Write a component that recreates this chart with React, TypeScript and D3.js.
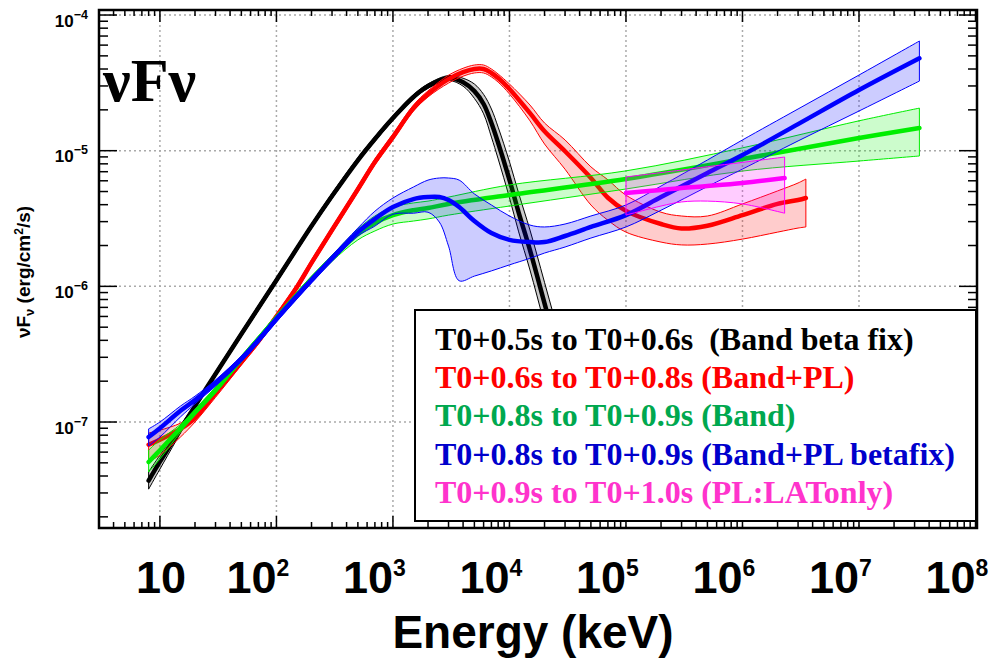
import React from "react";
import * as d3 from "d3";

// energies in keV, nuFnu in erg/cm2/s
const blackE = [8, 10, 20, 30, 50, 100, 200, 300, 500, 700, 1000, 1500, 2000, 3000, 4000, 5000, 6000, 7000, 8000, 10000, 12000, 15000, 20000, 30000, 50000];
const blackMid = [3.7e-8, 5.1e-8, 1.31e-7, 2.26e-7, 4.45e-7, 1.11e-6, 2.78e-6, 4.63e-6, 8.5e-6, 1.22e-5, 1.74e-5, 2.49e-5, 2.99e-5, 3.43e-5, 3.2e-5, 2.75e-5, 2.21e-5, 1.6e-5, 1.14e-5, 6.1e-6, 3.5e-6, 1.85e-6, 7.5e-7, 2.07e-7, 3.7e-8];
const blackHi = [4.3e-8, 5.7e-8, 1.36e-7, 2.36e-7, 4.65e-7, 1.16e-6, 2.9e-6, 4.85e-6, 8.9e-6, 1.27e-5, 1.81e-5, 2.59e-5, 3.11e-5, 3.58e-5, 3.42e-5, 3.1e-5, 2.6e-5, 2.03e-5, 1.49e-5, 8.3e-6, 4.85e-6, 2.6e-6, 1.07e-6, 3.0e-7, 5.5e-8];
const blackLo = [3.2e-8, 4.5e-8, 1.26e-7, 2.17e-7, 4.26e-7, 1.06e-6, 2.67e-6, 4.43e-6, 8.2e-6, 1.17e-5, 1.67e-5, 2.4e-5, 2.88e-5, 3.29e-5, 2.99e-5, 2.43e-5, 1.87e-5, 1.26e-5, 8.7e-6, 4.5e-6, 2.52e-6, 1.32e-6, 5.25e-7, 1.43e-7, 2.5e-8];

const redE = [8, 10, 15, 20, 30, 50, 70, 100, 150, 200, 300, 500, 700, 1000, 1500, 2000, 3000, 4000, 5000, 6000, 7000, 8000, 10000, 15000, 20000, 30000, 50000, 70000, 1e5, 2e5, 3e5, 5e5, 1e6, 2e6, 3e6, 3.5e6];
const redMid = [6.8e-8, 7.4e-8, 8.9e-8, 1.07e-7, 1.63e-7, 2.77e-7, 3.95e-7, 6.0e-7, 9.9e-7, 1.49e-6, 2.6e-6, 5.2e-6, 8.25e-6, 1.26e-5, 2.06e-5, 2.62e-5, 3.37e-5, 3.79e-5, 4.0e-5, 4.0e-5, 3.74e-5, 3.43e-5, 2.85e-5, 1.89e-5, 1.39e-5, 9.9e-6, 6.3e-6, 4.5e-6, 3.6e-6, 2.88e-6, 2.67e-6, 2.8e-6, 3.35e-6, 4.05e-6, 4.33e-6, 4.48e-6];
const redHi = [8.3e-8, 8.7e-8, 9.8e-8, 1.14e-7, 1.74e-7, 2.91e-7, 4.16e-7, 6.3e-7, 1.04e-6, 1.57e-6, 2.73e-6, 5.47e-6, 8.7e-6, 1.33e-5, 2.17e-5, 2.76e-5, 3.6e-5, 4.05e-5, 4.28e-5, 4.28e-5, 4.0e-5, 3.67e-5, 3.1e-5, 2.17e-5, 1.6e-5, 1.2e-5, 7.6e-6, 6.1e-6, 4.7e-6, 3.52e-6, 3.3e-6, 3.3e-6, 4.05e-6, 5.05e-6, 5.78e-6, 6.18e-6];
const redLo = [5.1e-8, 5.7e-8, 7.75e-8, 1.0e-7, 1.52e-7, 2.63e-7, 3.75e-7, 5.7e-7, 9.4e-7, 1.42e-6, 2.47e-6, 4.94e-6, 7.85e-6, 1.2e-5, 1.96e-5, 2.49e-5, 3.15e-5, 3.54e-5, 3.74e-5, 3.74e-5, 3.5e-5, 3.2e-5, 2.62e-5, 1.66e-5, 1.12e-5, 7.3e-6, 3.98e-6, 3.07e-6, 2.51e-6, 2.12e-6, 2.02e-6, 2.05e-6, 2.23e-6, 2.51e-6, 2.69e-6, 2.74e-6];

const greenE = [8, 10, 15, 20, 30, 50, 70, 100, 150, 200, 300, 500, 700, 1000, 1500, 2000, 3000, 10000, 1e5, 1e6, 1e7, 3.3e7];
const greenMid = [5.07e-8, 6.2e-8, 9.0e-8, 1.18e-7, 1.72e-7, 2.92e-7, 4.09e-7, 5.84e-7, 8.63e-7, 1.13e-6, 1.61e-6, 2.43e-6, 2.93e-6, 3.35e-6, 3.64e-6, 3.78e-6, 4.05e-6, 4.71e-6, 6.18e-6, 8.68e-6, 1.24e-5, 1.47e-5];
const greenHi = [6.2e-8, 7.4e-8, 9.6e-8, 1.24e-7, 1.81e-7, 3.07e-7, 4.3e-7, 6.15e-7, 9.08e-7, 1.19e-6, 1.7e-6, 2.64e-6, 3.3e-6, 3.84e-6, 4.12e-6, 4.25e-6, 4.55e-6, 5.59e-6, 7.1e-6, 1.05e-5, 1.66e-5, 2.06e-5];
const greenLo = [4.28e-8, 5.34e-8, 8.4e-8, 1.12e-7, 1.63e-7, 2.78e-7, 3.89e-7, 5.55e-7, 8.2e-7, 1.07e-6, 1.53e-6, 2.2e-6, 2.56e-6, 2.88e-6, 3.03e-6, 3.14e-6, 3.35e-6, 3.91e-6, 5.22e-6, 7.08e-6, 8.39e-6, 9.14e-6];

const blueE = [8, 10, 15, 20, 30, 50, 70, 100, 150, 200, 300, 500, 700, 1000, 1500, 2000, 2500, 3000, 3700, 5000, 7000, 10000, 15000, 20000, 30000, 50000, 1e5, 2e5, 5e5, 1e6, 3e6, 1e7, 3.3e7];
const blueMid = [7.75e-8, 9.0e-8, 1.21e-7, 1.45e-7, 1.94e-7, 2.92e-7, 4.01e-7, 5.74e-7, 8.49e-7, 1.11e-6, 1.61e-6, 2.51e-6, 3.14e-6, 3.84e-6, 4.4e-6, 4.55e-6, 4.55e-6, 4.33e-6, 3.84e-6, 3.03e-6, 2.47e-6, 2.2e-6, 2.12e-6, 2.12e-6, 2.35e-6, 2.74e-6, 3.35e-6, 4.55e-6, 6.85e-6, 9.29e-6, 1.57e-5, 2.8e-5, 4.8e-5];
const blueHi = [8.9e-8, 1.0e-7, 1.31e-7, 1.55e-7, 2.04e-7, 3.07e-7, 4.22e-7, 6.04e-7, 8.93e-7, 1.17e-6, 1.69e-6, 2.69e-6, 3.58e-6, 4.48e-6, 5.4e-6, 6.07e-6, 6.29e-6, 6.29e-6, 6.07e-6, 4.8e-6, 3.98e-6, 3.3e-6, 2.83e-6, 2.74e-6, 2.88e-6, 3.3e-6, 3.98e-6, 5.49e-6, 8.54e-6, 1.2e-5, 2.03e-5, 3.61e-5, 6.43e-5];
const blueLo = [6.66e-8, 7.75e-8, 1.09e-7, 1.36e-7, 1.84e-7, 2.78e-7, 3.81e-7, 5.46e-7, 8.07e-7, 1.06e-6, 1.53e-6, 2.35e-6, 2.78e-6, 3.4e-6, 3.46e-6, 3.52e-6, 2.98e-6, 1.98e-6, 1.1e-6, 1.19e-6, 1.3e-6, 1.44e-6, 1.61e-6, 1.76e-6, 1.95e-6, 2.27e-6, 2.74e-6, 3.64e-6, 5.44e-6, 7.32e-6, 1.18e-5, 1.96e-5, 3.26e-5];

const magE = [1e5, 2e5, 3e5, 5e5, 1e6, 2.3e6];
const magMid = [4.88e-6, 5.13e-6, 5.31e-6, 5.49e-6, 5.78e-6, 6.29e-6];
const magHi = [6.4e-6, 6.9e-6, 7.2e-6, 7.62e-6, 8.2e-6, 8.98e-6];
const magLo = [3.35e-6, 3.91e-6, 4.19e-6, 4.25e-6, 4.05e-6, 3.46e-6];

const legendLabels = [
  "T0+0.5s to T0+0.6s  (Band beta fix)",
  "T0+0.6s to T0+0.8s (Band+PL)",
  "T0+0.8s to T0+0.9s (Band)",
  "T0+0.8s to T0+0.9s (Band+PL betafix)",
  "T0+0.9s to T0+1.0s (PL:LATonly)",
];
const xTickExps = [1, 2, 3, 4, 5, 6, 7, 8];
const yTickExps = [-4, -5, -6, -7];

const series = [
  { E: blackE, mid: blackMid, hi: blackHi, lo: blackLo, color: "#000000", text: "#000000" },
  { E: redE, mid: redMid, hi: redHi, lo: redLo, color: "#ff0000", text: "#ff0000" },
  { E: greenE, mid: greenMid, hi: greenHi, lo: greenLo, color: "#00ee00", text: "#00a84f" },
  { E: blueE, mid: blueMid, hi: blueHi, lo: blueLo, color: "#0000ff", text: "#0000cc" },
  { E: magE, mid: magMid, hi: magHi, lo: magLo, color: "#ff00ff", text: "#ff33cc" },
];

const SANS = "'Liberation Sans', Arial, sans-serif";
const SERIF = "'Liberation Serif', 'Times New Roman', serif";

export default function App() {
  const left = 99, right = 977, top = 10, bottom = 528;
  const x = d3.scaleLog().domain([3, 1.03e8]).range([left, right]);
  const y = d3.scaleLog().domain([1.655e-8, 1.089e-4]).range([bottom, top]);
  const smooth = d3.curveCatmullRom.alpha(0.5);

  // minor / major ticks
  const xTicks: { v: number; major: boolean }[] = [];
  for (let k = 0; k <= 8; k++) {
    for (let m = 1; m <= 9; m++) {
      const v = m * Math.pow(10, k);
      if (v >= 3 && v <= 1.03e8) xTicks.push({ v, major: m === 1 });
    }
  }
  const yTicks: { v: number; major: boolean }[] = [];
  for (let k = -8; k <= -4; k++) {
    for (let m = 1; m <= 9; m++) {
      const v = m * Math.pow(10, k);
      if (v >= 1.655e-8 && v <= 1.089e-4) yTicks.push({ v, major: m === 1 });
    }
  }

  return (
    <svg width={990} height={658} style={{ position: "absolute", left: 0, top: 0, background: "#fff" }}>
      <defs>
        <clipPath id="plot">
          <rect x={left} y={top} width={right - left} height={bottom - top} />
        </clipPath>
      </defs>
      <rect x={0} y={0} width={990} height={658} fill="#fff" />

      {/* grid */}
      <g stroke="#aaaaaa" strokeWidth={1.5} strokeDasharray="2,3">
        {xTickExps.slice(0, 7).map((k) => (
          <line key={"gx" + k} x1={x(Math.pow(10, k))} x2={x(Math.pow(10, k))} y1={top} y2={bottom} />
        ))}
        {yTickExps.map((k) => (
          <line key={"gy" + k} x1={left} x2={right} y1={y(Math.pow(10, k))} y2={y(Math.pow(10, k))} />
        ))}
      </g>

      {/* curves */}
      <g clipPath="url(#plot)">
        {series.map((s, si) => {
          const idx = d3.range(s.E.length);
          const area = d3
            .area<number>()
            .x((i) => x(s.E[i]))
            .y0((i) => y(s.lo[i]))
            .y1((i) => y(s.hi[i]))
            .curve(smooth);
          const line = d3
            .line<number>()
            .x((i) => x(s.E[i]))
            .y((i) => y(s.mid[i]))
            .curve(smooth);
          return (
            <g key={"s" + si}>
              <path d={area(idx) || ""} fill={s.color} fillOpacity={0.2} stroke={s.color} strokeWidth={1} />
              <path d={line(idx) || ""} fill="none" stroke={s.color} strokeWidth={4.5} strokeLinecap="round" />
            </g>
          );
        })}
      </g>

      {/* ticks */}
      <g stroke="#000" strokeWidth={1.5}>
        {xTicks.map((t, i) => {
          const px = x(t.v);
          const len = t.major ? 12 : 6;
          return (
            <g key={"xt" + i}>
              <line x1={px} x2={px} y1={bottom} y2={bottom - len} />
              <line x1={px} x2={px} y1={top} y2={top + len} />
            </g>
          );
        })}
        {yTicks.map((t, i) => {
          const py = y(t.v);
          const len = t.major ? 18 : 9;
          return (
            <g key={"yt" + i}>
              <line x1={left} x2={left + len} y1={py} y2={py} />
              <line x1={right} x2={right - len} y1={py} y2={py} />
            </g>
          );
        })}
      </g>

      {/* frame */}
      <rect x={left} y={top} width={right - left} height={bottom - top} fill="none" stroke="#000" strokeWidth={2.5} />

      {/* y tick labels */}
      {yTickExps.map((k) => (
        <text key={"yl" + k} x={88} y={y(Math.pow(10, k)) + 11.5} textAnchor="end" fontFamily={SANS} fontWeight="bold" fontSize={17}>
          10
          <tspan fontSize={12.5} dy={-8}>{"\u2212" + Math.abs(k)}</tspan>
        </text>
      ))}

      {/* y axis title */}
      <text transform="translate(30,272) rotate(-90)" textAnchor="middle" fontFamily={SANS} fontWeight="bold" fontSize={19}>
        νF
        <tspan fontSize={13} dy={4}>ν</tspan>
        <tspan dy={-4}> (erg/cm</tspan>
        <tspan fontSize={12} dy={-7}>2</tspan>
        <tspan dy={7}>/s)</tspan>
      </text>

      {/* x tick labels (drawn offset to the left of each decade, as in the original) */}
      {xTickExps.map((k) => (
        <text key={"xl" + k} x={x(Math.pow(10, k)) - (k === 1 ? 24 : 50)} y={593} textAnchor="start" fontFamily={SANS} fontWeight="bold" fontSize={45}>
          10
          {k > 1 ? <tspan fontSize={23} dy={-17}>{String(k)}</tspan> : null}
        </text>
      ))}

      {/* x axis title */}
      <text x={533} y={648} textAnchor="middle" fontFamily={SANS} fontWeight="bold" fontSize={46}>
        Energy (keV)
      </text>

      {/* big label */}
      <text x={103} y={101} fontFamily={SERIF} fontWeight="bold" fontSize={62}>
        νFν
      </text>

      {/* legend */}
      <rect x={415} y={310} width={561} height={211} fill="#fff" stroke="#000" strokeWidth={2} />
      {legendLabels.map((lab, i) => (
        <text key={"lg" + i} x={435} y={350 + i * 38.2} fill={series[i].text} fontFamily={SERIF} fontWeight="bold" fontSize={32} style={{ whiteSpace: "pre" }}>
          {lab}
        </text>
      ))}
    </svg>
  );
}
